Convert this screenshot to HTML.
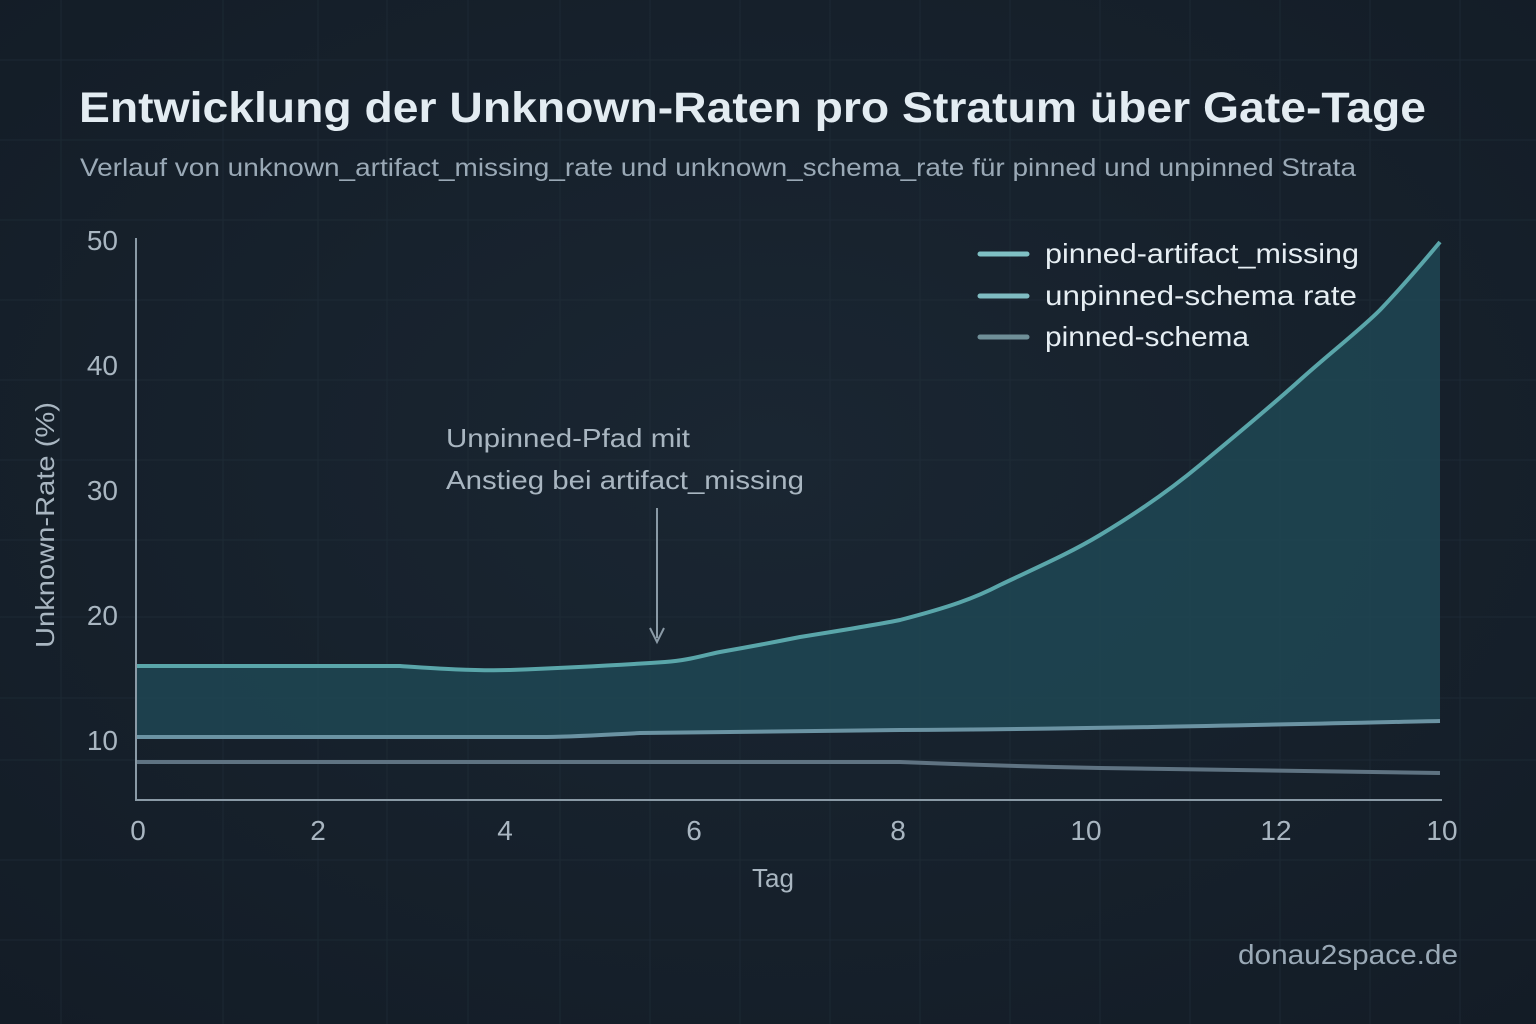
<!DOCTYPE html>
<html><head><meta charset="utf-8"><style>
html,body{margin:0;padding:0;background:#16202b;}
svg{display:block;font-family:"Liberation Sans","DejaVu Sans",sans-serif;}
</style></head><body>
<svg width="1536" height="1024" viewBox="0 0 1536 1024" xmlns="http://www.w3.org/2000/svg">
<defs>
<radialGradient id="bg" cx="50%" cy="45%" r="75%">
<stop offset="0" stop-color="#1a2632"/><stop offset="1" stop-color="#131c26"/>
</radialGradient>
</defs>
<rect width="1536" height="1024" fill="url(#bg)"/>
<g stroke="#22303b" stroke-width="1" opacity="0.6">
<line x1="61" y1="0" x2="61" y2="1024"/><line x1="223" y1="0" x2="223" y2="1024"/><line x1="318" y1="0" x2="318" y2="1024"/><line x1="387" y1="0" x2="387" y2="1024"/><line x1="468" y1="0" x2="468" y2="1024"/><line x1="560" y1="0" x2="560" y2="1024"/><line x1="650" y1="0" x2="650" y2="1024"/><line x1="740" y1="0" x2="740" y2="1024"/><line x1="830" y1="0" x2="830" y2="1024"/><line x1="920" y1="0" x2="920" y2="1024"/><line x1="1010" y1="0" x2="1010" y2="1024"/><line x1="1100" y1="0" x2="1100" y2="1024"/><line x1="1190" y1="0" x2="1190" y2="1024"/><line x1="1280" y1="0" x2="1280" y2="1024"/><line x1="1370" y1="0" x2="1370" y2="1024"/><line x1="1460" y1="0" x2="1460" y2="1024"/>
<line x1="0" y1="617" x2="1536" y2="617"/><line x1="0" y1="698" x2="1536" y2="698"/><line x1="0" y1="760" x2="1536" y2="760"/><line x1="0" y1="540" x2="1536" y2="540"/><line x1="0" y1="460" x2="1536" y2="460"/><line x1="0" y1="380" x2="1536" y2="380"/><line x1="0" y1="300" x2="1536" y2="300"/><line x1="0" y1="220" x2="1536" y2="220"/><line x1="0" y1="140" x2="1536" y2="140"/><line x1="0" y1="60" x2="1536" y2="60"/><line x1="0" y1="860" x2="1536" y2="860"/><line x1="0" y1="940" x2="1536" y2="940"/>
</g>
<text x="79" y="122" font-size="43" font-weight="bold" fill="#e3ecf2" textLength="1347" lengthAdjust="spacingAndGlyphs">Entwicklung der Unknown-Raten pro Stratum über Gate-Tage</text>
<text x="80" y="176" font-size="25" fill="#9aa9b6" textLength="1276" lengthAdjust="spacingAndGlyphs">Verlauf von unknown_artifact_missing_rate und unknown_schema_rate für pinned und unpinned Strata</text>
<path d="M137,666 L400,666 C430,668 470,671 510,670 C560,668 620,665 665,662 C690,660 700,656 720,652 C760,645 780,641 800,637 C850,629 880,624 900,620 C950,607 975,598 1000,585 C1040,566 1070,553 1100,535 C1140,511 1170,490 1200,465 C1240,432 1270,407 1300,380 C1330,353 1360,330 1380,310 C1400,289 1420,266 1440,242 L1440,721 C1300,724 1100,729 900,730 C800,731 700,732 640,733 C600,735 570,737 540,737 L137,737 Z" fill="#1f4654" opacity="0.85"/>
<path d="M137,666 L400,666 C430,668 470,671 510,670 C560,668 620,665 665,662 C690,660 700,656 720,652 C760,645 780,641 800,637 C850,629 880,624 900,620 C950,607 975,598 1000,585 C1040,566 1070,553 1100,535 C1140,511 1170,490 1200,465 C1240,432 1270,407 1300,380 C1330,353 1360,330 1380,310 C1400,289 1420,266 1440,242" fill="none" stroke="#5aa6aa" stroke-width="4"/>
<path d="M137,737 L540,737 C570,737 600,735 640,733 C700,732 800,731 900,730 C1100,729 1300,724 1440,721" fill="none" stroke="#6b93a3" stroke-width="4"/>
<path d="M137,762 L900,762 C1000,766 1050,767 1100,768 C1250,771 1350,772 1440,773" fill="none" stroke="#5f7382" stroke-width="4"/>
<line x1="136" y1="238" x2="136" y2="800" stroke="#8a9aa6" stroke-width="2"/>
<line x1="135" y1="800" x2="1442" y2="800" stroke="#8a9aa6" stroke-width="2"/>
<g font-size="28" fill="#a9b6c1" text-anchor="end">
<text x="118" y="250">50</text><text x="118" y="375">40</text><text x="118" y="500">30</text><text x="118" y="625">20</text><text x="118" y="750">10</text>
</g>
<g font-size="28" fill="#a9b6c1" text-anchor="middle">
<text x="138" y="840">0</text><text x="318" y="840">2</text><text x="505" y="840">4</text><text x="694" y="840">6</text><text x="898" y="840">8</text><text x="1086" y="840">10</text><text x="1276" y="840">12</text><text x="1442" y="840">10</text>
</g>
<text x="773" y="887" font-size="26" fill="#a9b6c1" text-anchor="middle">Tag</text>
<text transform="translate(54,525) rotate(-90)" font-size="26" fill="#a9b6c1" text-anchor="middle" textLength="246" lengthAdjust="spacingAndGlyphs">Unknown-Rate (%)</text>
<text x="446" y="447" font-size="26" fill="#a9b6c1" textLength="244" lengthAdjust="spacingAndGlyphs">Unpinned-Pfad mit</text>
<text x="446" y="489" font-size="26" fill="#a9b6c1" textLength="358" lengthAdjust="spacingAndGlyphs">Anstieg bei artifact_missing</text>
<line x1="657" y1="508" x2="657" y2="638" stroke="#8a9aa6" stroke-width="2"/>
<path d="M650,628 L657,642 L664,628" fill="none" stroke="#8a9aa6" stroke-width="2"/>
<g stroke-linecap="round" stroke-width="5">
<line x1="980" y1="254" x2="1027" y2="254" stroke="#7fc0c4"/>
<line x1="980" y1="296" x2="1027" y2="296" stroke="#7fbcc2"/>
<line x1="980" y1="337" x2="1027" y2="337" stroke="#6f8f98"/>
</g>
<g font-size="28" fill="#e6eef3">
<text x="1045" y="263" textLength="314" lengthAdjust="spacingAndGlyphs">pinned-artifact_missing</text>
<text x="1045" y="305" textLength="312" lengthAdjust="spacingAndGlyphs">unpinned-schema   rate</text>
<text x="1045" y="346" textLength="204" lengthAdjust="spacingAndGlyphs">pinned-schema</text>
</g>
<text x="1238" y="964" font-size="28" fill="#9aa9b6" textLength="220" lengthAdjust="spacingAndGlyphs">donau2space.de</text>
</svg>
</body></html>
